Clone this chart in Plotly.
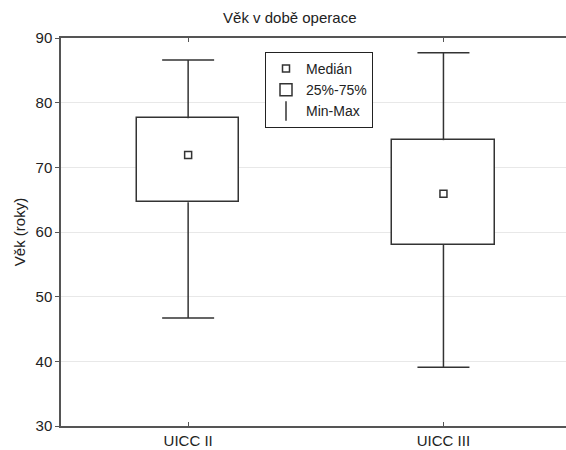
import plotly.graph_objects as go

categories = ["UICC II", "UICC III"]
mins = [46.7, 39.1]
q1 = [64.6, 58.0]
medians = [71.9, 65.9]
q3 = [77.6, 74.2]
maxs = [86.6, 87.7]
y_ticks = [30, 40, 50, 60, 70, 80, 90]

xpos = list(range(len(categories)))
line_col = "#333333"
FS = 15

fig = go.Figure()

# whisker stems (vertical lines from box edges to extremes)
wx, wy = [], []
for i in xpos:
    wx += [i, i, None, i, i, None]
    wy += [q3[i], maxs[i], None, q1[i], mins[i], None]
fig.add_trace(go.Scatter(
    x=wx, y=wy, mode="lines", line=dict(color=line_col, width=1.5),
    showlegend=False, hoverinfo="skip"))

# whisker caps (zero-length error bars => horizontal caps only)
fig.add_trace(go.Scatter(
    x=xpos + xpos, y=maxs + mins, mode="markers",
    marker=dict(size=0.1, color="rgba(0,0,0,0)"),
    error_y=dict(type="constant", value=0, color=line_col, thickness=1.5, width=26),
    showlegend=False, hoverinfo="skip"))

# boxes
fig.add_trace(go.Bar(
    x=xpos, base=q1, y=[b - a for a, b in zip(q1, q3)], width=0.4,
    marker=dict(color="white", line=dict(color=line_col, width=1.5)),
    name="25%-75%", legendrank=2))

# medians
fig.add_trace(go.Scatter(
    x=xpos, y=medians, mode="markers", name="Medián", legendrank=1,
    marker=dict(symbol="square", size=7, color="white",
                line=dict(color=line_col, width=1.5))))

# legend entry for min-max
fig.add_trace(go.Scatter(
    x=[None], y=[None], mode="markers", name="Min-Max", legendrank=3,
    marker=dict(symbol="line-ns-open", size=14, color=line_col,
                line=dict(color=line_col, width=1.5))))

fig.update_layout(
    width=566, height=450,
    margin=dict(l=61, r=0, t=38, b=24),
    paper_bgcolor="white", plot_bgcolor="white",
    font=dict(family="Liberation Sans, Arial, sans-serif", size=FS, color="#222222"),
    title=dict(text="Věk v době operace", x=0.512, xanchor="center",
               y=1 - 18 / 450, yanchor="middle", font=dict(size=FS)),
    showlegend=True,
    legend=dict(x=(265 - 61) / 505, y=(426 - 52) / 388, xanchor="left", yanchor="top",
                bgcolor="white", bordercolor="#222222", borderwidth=1,
                traceorder="normal", itemwidth=30, tracegroupgap=0,
                font=dict(size=14)),
    bargap=0,
)

fig.update_xaxes(
    range=[-0.498, 1.48], tickmode="array", tickvals=xpos, ticktext=categories,
    ticks="inside", ticklen=4, tickcolor="#555555",
    showline=True, linecolor="#555555", linewidth=1.5, mirror="ticks",
    showgrid=False, zeroline=False, tickfont=dict(size=FS))

fig.update_yaxes(
    range=[30, 90], tickmode="array", tickvals=y_ticks,
    ticks="outside", ticklen=4, tickcolor="#555555",
    showline=True, linecolor="#555555", linewidth=1.5, mirror=False,
    showgrid=True, gridcolor="#e8e8e8", gridwidth=1, zeroline=False,
    title=dict(text="Věk (roky)", standoff=6, font=dict(size=FS)),
    tickfont=dict(size=FS))

fig.write_html("out.html")
